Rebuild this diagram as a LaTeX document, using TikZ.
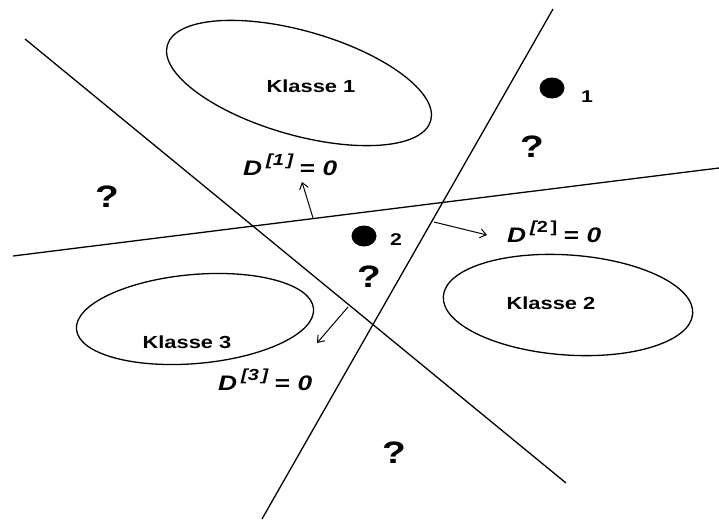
\documentclass[tikz,border=0pt]{standalone}
\usepackage{fontspec}
\setmainfont{Liberation Sans}[FakeStretch=1.25]
\usetikzlibrary{arrows.meta,shapes.geometric}
\begin{document}
\begin{tikzpicture}[x=1pt,y=-1pt,
  bnd/.style={line width=1.3pt},
  cls/.style={line width=1.3pt},
  arr/.style={line width=1pt,-{Straight Barb[length=6pt,width=9pt,line width=1pt]}},
  lbl/.style={font=\fontsize{17.5}{20}\selectfont\bfseries,inner sep=0pt,anchor=base},
  dlab/.style={font=\fontsize{21}{24}\selectfont\bfseries\itshape,inner sep=0pt,anchor=base west},
  qm/.style={font=\fontsize{31}{34}\selectfont\bfseries,inner sep=0pt,anchor=base},
  dot/.style={fill=black,ellipse,minimum width=25pt,minimum height=21pt,inner sep=0pt},
  num/.style={font=\fontsize{17}{20}\selectfont\bfseries,inner sep=0pt,anchor=base}]
\newcommand{\supx}[1]{\hspace{4pt}\raisebox{10pt}{\fontsize{16}{18}\selectfont[#1\,]}\hspace{6pt}}
\useasboundingbox (0,0) rectangle (719,519);
% boundaries
\coordinate (l1a) at (25,39);  \coordinate (l1b) at (566,483);
\coordinate (l2a) at (262,519); \coordinate (l2b) at (553,9);
\coordinate (l3a) at (13,256); \coordinate (l3b) at (719,168);
\draw[bnd] (l1a) -- (l1b);
\draw[bnd] (l2a) -- (l2b);
\draw[bnd] (l3a) -- (l3b);
% classes
\draw[cls,rotate around={-16:(299,83)}] (299,83) ellipse [x radius=137, y radius=52];
\draw[cls,rotate around={-4:(568,305)}] (568,305) ellipse [x radius=125, y radius=50];
\draw[cls,rotate around={5:(195,319)}] (195,319) ellipse [x radius=119, y radius=44.5];
\node[lbl] (k1) at (311,92) {Klasse 1};
\node[lbl] (k2) at (551,309) {Klasse 2};
\node[lbl] (k3) at (187,348) {Klasse 3};
% normals
\coordinate (n1a) at (313,218); \coordinate (n1b) at (302,182);
\coordinate (n2a) at (434,222); \coordinate (n2b) at (487,235);
\coordinate (n3a) at (348,307); \coordinate (n3b) at (317,343);
\draw[arr] (n1a) -- (n1b);
\draw[arr] (n2a) -- (n2b);
\draw[arr] (n3a) -- (n3b);
\node[dlab] (d1) at (243,175) {D\supx{\textit{1}}=\hspace{8pt}0};
\node[dlab] (d2) at (507,242) {D\supx{\upshape 2}=\hspace{8pt}0};
\node[dlab] (d3) at (218,390) {D\supx{\textit{3}}=\hspace{8pt}0};
% points
\node[dot] (p1) at (552,88) {};
\node[num] (t1) at (587,102) {1};
\node[dot] (p2) at (364,236) {};
\node[num] (t2) at (396,245) {2};
% unknown regions
\node[qm] (q1) at (107,207) {?};
\node[qm] (q2) at (532,157) {?};
\node[qm] (q3) at (369,287) {?};
\node[qm] (q4) at (394,463) {?};
\end{tikzpicture}
\end{document}
